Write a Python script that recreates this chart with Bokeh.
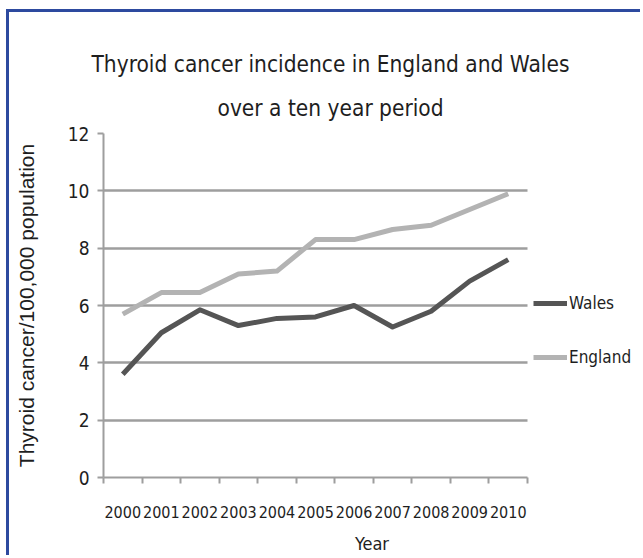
import numpy as np
from bokeh.plotting import figure
from bokeh.models import FixedTicker, Legend, LegendItem, Title, Range1d
from bokeh.embed import file_html
from bokeh.resources import INLINE

# Thyroid cancer incidence per 100,000 population
years = ["2000", "2001", "2002", "2003", "2004", "2005",
         "2006", "2007", "2008", "2009", "2010"]
wales = [3.6, 5.05, 5.85, 5.3, 5.55, 5.6, 6.0, 5.25, 5.8, 6.85, 7.6]
england = [5.7, 6.45, 6.45, 7.1, 7.2, 8.3, 8.3, 8.65, 8.8, 9.35, 9.9]
y_ticks = [0, 2, 4, 6, 8, 10, 12]

NARROW = "DejaVu Sans Condensed"
TEXT = "#1e1e1e"
GRID = "#9e9e9e"

n = len(years)
centers = list(np.arange(n) + 0.5)       # one slot per year
bounds = list(np.arange(n + 1).astype(float))  # slot edges carry the tick marks

# The plot area runs on past the last year to leave room for the legend;
# axis and grid are bounded to the year slots.
W, H = 634, 546
BL, BR, BT, BB = 94, 3, 121, 81
slot_px = 424 / n
x_end = (W - BL - BR) / slot_px

p = figure(width=W, height=H,
           x_range=Range1d(0, x_end), y_range=Range1d(0, 12),
           output_backend="svg", toolbar_location=None,
           min_border_left=BL, min_border_right=BR,
           min_border_top=BT, min_border_bottom=BB)
p.styles = {"margin-left": "6px", "margin-top": "9px",
            "border-left": "3px solid #2d4a9f",
            "border-top": "3px solid #2d4a9f"}
p.background_fill_color = "white"
p.border_fill_color = "white"
p.outline_line_color = None

# Two-line heading, lower line added first so it sits nearest the plot
p.add_layout(Title(text="over a ten year period", align="left",
                   text_font=NARROW, text_font_size="22.5px",
                   text_font_style="normal", text_color=TEXT,
                   offset=114, standoff=26), "above")
p.add_layout(Title(text="Thyroid cancer incidence in England and Wales",
                   align="left", text_font=NARROW, text_font_size="22.5px",
                   text_font_style="normal", text_color=TEXT,
                   offset=-12, standoff=5), "above")

# x axis: labels centred in each year slot, ticks on the slot edges
xa = p.xaxis[0]
xa.bounds = (0, n)
xa.ticker = FixedTicker(ticks=centers, minor_ticks=bounds)
xa.major_label_overrides = {c: y for c, y in zip(centers, years)}
xa.major_tick_out = 0
xa.major_tick_in = 0
xa.minor_tick_out = 6
xa.minor_tick_in = 0
xa.minor_tick_line_color = GRID
xa.minor_tick_line_width = 2
xa.axis_line_color = GRID
xa.axis_line_width = 2
xa.major_label_text_font = NARROW
xa.major_label_text_font_size = "16px"
xa.major_label_text_color = TEXT
xa.major_label_standoff = 22
xa.axis_label = "Year"
xa.axis_label_text_font = NARROW
xa.axis_label_text_font_size = "18px"
xa.axis_label_text_font_style = "normal"
xa.axis_label_text_color = TEXT
xa.axis_label_standoff = 12

ya = p.yaxis[0]
ya.ticker = FixedTicker(ticks=y_ticks)
ya.major_tick_out = 6
ya.major_tick_in = 0
ya.major_tick_line_color = GRID
ya.major_tick_line_width = 2
ya.minor_tick_line_color = None
ya.axis_line_color = GRID
ya.axis_line_width = 2
ya.major_label_text_font = NARROW
ya.major_label_text_font_size = "19px"
ya.major_label_text_color = TEXT
ya.major_label_standoff = 8
ya.axis_label = "Thyroid cancer/100,000 population"
ya.axis_label_text_font = "Liberation Sans"
ya.axis_label_text_font_size = "21px"
ya.axis_label_text_font_style = "normal"
ya.axis_label_text_color = TEXT
ya.axis_label_standoff = 27

p.xgrid.grid_line_color = None
p.ygrid.ticker = FixedTicker(ticks=y_ticks)
p.ygrid.cross_bounds = (0, n)
p.ygrid.grid_line_color = GRID
p.ygrid.grid_line_width = 2.5

r_wales = p.line(centers, wales, line_color="#555555", line_width=5,
                 line_join="round")
r_england = p.line(centers, england, line_color="#b3b3b3", line_width=5,
                   line_join="round")

legend = Legend(items=[LegendItem(label="Wales", renderers=[r_wales]),
                       LegendItem(label="England", renderers=[r_england])],
                location=(430, 110), orientation="vertical",
                padding=0, margin=0, spacing=34,
                glyph_width=34, glyph_height=20, label_height=20,
                label_standoff=2,
                border_line_color=None, background_fill_alpha=0,
                label_text_font=NARROW, label_text_font_size="17px",
                label_text_color=TEXT)
p.add_layout(legend, "center")

open("out.html", "w").write(file_html(p, INLINE))
